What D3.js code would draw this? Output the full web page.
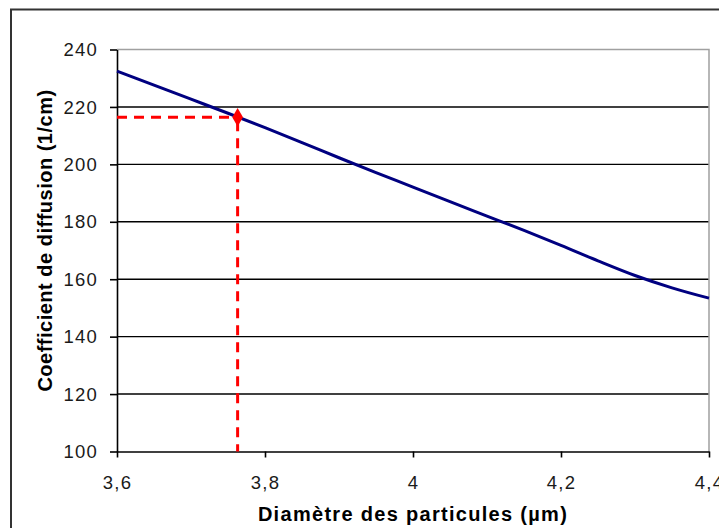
<!DOCTYPE html>
<html><head><meta charset="utf-8">
<script src="https://cdn.jsdelivr.net/npm/d3@7"></script>
<style>body{margin:0;background:#fff}svg{display:block}</style>
</head><body>
<svg id="c" width="719" height="528"></svg>
<script>
// Data
const diameters = [3.60,3.65,3.70,3.75,3.80,3.85,3.90,3.95,4.00,4.05,4.10,4.15,4.20,4.25,4.30,4.35,4.40];
const coeffs    = [232.5,227.6,222.7,217.8,212.8,207.6,202.3,197.1,192.1,187.0,182.0,177.0,171.8,166.4,161.3,157.0,153.4];
const pointX = [3.763];
const pointY = [216.4];
const xTicks = [3.6,3.8,4.0,4.2,4.4];
const yTicks = [100,120,140,160,180,200,220,240];
const xTitle = "Diamètre des particules (µm)";
const yTitle = "Coefficient de diffusion (1/cm)";

const svg = d3.select("#c");
const L=117, R=709, T=49.5, B=451.5;
const x = d3.scaleLinear().domain([3.6,4.4]).range([L,R]);
const y = d3.scaleLinear().domain([100,240]).range([B,T]);
const fmt = d => d3.format(".1~f")(d).replace(".", ",");

// outer frame
svg.append("rect").attr("x",11).attr("y",9.5).attr("width",760).attr("height",560)
  .attr("fill","none").attr("stroke","#333").attr("stroke-width",2);

// gridlines
svg.append("g").selectAll("line").data(yTicks.filter(d=>d>100 && d<240)).join("line")
  .attr("x1",L).attr("x2",R).attr("y1",d=>y(d)).attr("y2",d=>y(d))
  .attr("stroke","#000").attr("stroke-width",1.4);
// plot border top/right gray
svg.append("path").attr("d",`M${L},${T}H${R}V${B}`).attr("fill","none")
  .attr("stroke","#a0a0a0").attr("stroke-width",1.5);

// axes
const xAxis = svg.append("g").attr("transform",`translate(0,${B})`)
  .call(d3.axisBottom(x).tickValues(xTicks).tickSize(6).tickSizeOuter(0).tickPadding(18).tickFormat(fmt));
const yAxis = svg.append("g").attr("transform",`translate(${L},0)`)
  .call(d3.axisLeft(y).tickValues(yTicks).tickSize(7).tickSizeOuter(0).tickPadding(12).tickFormat(d=>d));
[xAxis,yAxis].forEach(a=>{
  a.select(".domain").attr("stroke","#000").attr("stroke-width",1.6);
  a.selectAll(".tick line").attr("stroke","#000").attr("stroke-width",1.6);
  a.selectAll("text").attr("fill","#1a1a1a").style("font-family","'Liberation Sans',Arial,sans-serif")
    .style("font-size","18.5px").style("letter-spacing","1.2px");
});
yAxis.selectAll("text").attr("dy","0.33em");

// curve
svg.append("path").datum(diameters.map((d,i)=>[d,coeffs[i]]))
  .attr("d",d3.line().x(d=>x(d[0])).y(d=>y(d[1])).curve(d3.curveMonotoneX))
  .attr("fill","none").attr("stroke","#000080").attr("stroke-width",3);

// red dashed guides
svg.append("path").attr("d",`M${x(3.6)},${y(pointY[0])}H${x(pointX[0])}`)
  .attr("stroke","#ff0000").attr("stroke-width",3).attr("stroke-dasharray","10,7").attr("fill","none");
svg.append("path").attr("d",`M${x(pointX[0])},${y(pointY[0])}V${y(100)}`)
  .attr("stroke","#ff0000").attr("stroke-width",3).attr("stroke-dasharray","10,7").attr("fill","none")
  .attr("stroke-dashoffset",-4);
svg.append("path").attr("d",d3.symbol().type(d3.symbolDiamond).size(100)())
  .attr("transform",`translate(${x(pointX[0])},${y(pointY[0])})`).attr("fill","#ff0000");

// titles
svg.append("text").attr("x",413).attr("y",521).attr("text-anchor","middle")
  .style("font-family","'Liberation Sans',Arial,sans-serif").style("font-weight","bold")
  .style("font-size","20px").style("letter-spacing","1.3px").attr("fill","#000").text(xTitle);
svg.append("text").attr("transform","translate(52,240.5) rotate(-90)").attr("text-anchor","middle")
  .style("font-family","'Liberation Sans',Arial,sans-serif").style("font-weight","bold")
  .style("font-size","20px").style("letter-spacing","0.5px").attr("fill","#000").text(yTitle);
</script>
</body></html>
